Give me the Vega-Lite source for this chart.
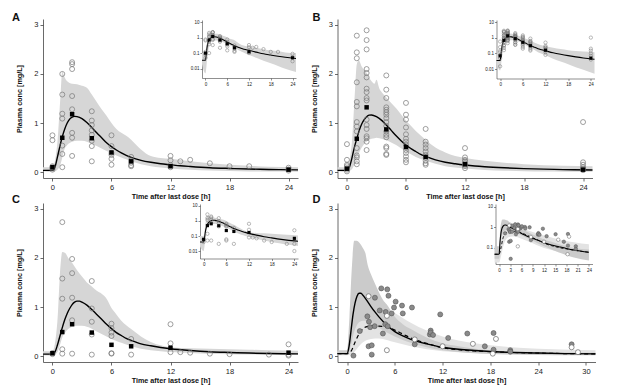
{
  "$schema": "https://vega.github.io/schema/vega-lite/v6.json",
  "padding": {"left": 12, "top": 12, "right": 5, "bottom": 2},
  "columns": 2,
  "spacing": {"row": 25, "column": 39.5},
  "bounds": "flush",
  "config": {
    "font": "Liberation Sans",
    "view": {"stroke": null},
    "title": {"fontSize": 11, "fontWeight": "bold", "anchor": "start", "frame": "group", "offset": 0, "baseline": "alphabetic", "color": "#111"},
    "axis": {"grid": false, "domainColor": "#444", "tickColor": "#444", "labelColor": "#222", "titleColor": "#111", "labelFontSize": 7.5, "titleFontSize": 7.2, "titleFontWeight": "bold", "tickSize": 3, "labelPadding": 2, "domainWidth": 0.8, "tickWidth": 0.8, "labelFlush": false, "labelOverlap": false},
    "axisX": {"titlePadding": 2},
    "axisY": {"titlePadding": 10}
  },
  "datasets": {
    "bA": [
      {"t": -0.96, "v": 0.02, "v2": 0.1}, {"t": 0, "v": 0.005, "v2": 0.1}, {"t": 0.5, "v": 0.05, "v2": 0.6}, {"t": 0.8, "v": 0.15, "v2": 1.5},
      {"t": 1, "v": 0.3, "v2": 2.05}, {"t": 1.2, "v": 0.45, "v2": 1.95}, {"t": 1.5, "v": 0.55, "v2": 1.85}, {"t": 2, "v": 0.62, "v2": 1.8},
      {"t": 2.5, "v": 0.64, "v2": 1.79}, {"t": 3, "v": 0.64, "v2": 1.76}, {"t": 3.5, "v": 0.62, "v2": 1.72}, {"t": 4, "v": 0.58, "v2": 1.58},
      {"t": 4.5, "v": 0.53, "v2": 1.43}, {"t": 5, "v": 0.48, "v2": 1.28}, {"t": 5.5, "v": 0.43, "v2": 1.15}, {"t": 6, "v": 0.39, "v2": 1.0},
      {"t": 6.5, "v": 0.34, "v2": 0.88}, {"t": 7, "v": 0.3, "v2": 0.8}, {"t": 7.5, "v": 0.26, "v2": 0.74}, {"t": 8, "v": 0.22, "v2": 0.66},
      {"t": 8.5, "v": 0.19, "v2": 0.56}, {"t": 9, "v": 0.16, "v2": 0.46}, {"t": 9.5, "v": 0.14, "v2": 0.38}, {"t": 10, "v": 0.12, "v2": 0.33},
      {"t": 11, "v": 0.095, "v2": 0.29}, {"t": 12, "v": 0.075, "v2": 0.27}, {"t": 14, "v": 0.05, "v2": 0.22}, {"t": 16, "v": 0.032, "v2": 0.18},
      {"t": 18, "v": 0.022, "v2": 0.15}, {"t": 20, "v": 0.015, "v2": 0.13}, {"t": 22, "v": 0.01, "v2": 0.11}, {"t": 24.96, "v": 0.006, "v2": 0.1}
    ],
    "lA": [
      {"t": -0.96, "v": 0.035}, {"t": 0, "v": 0.035}, {"t": 0.25, "v": 0.1}, {"t": 0.5, "v": 0.3}, {"t": 0.75, "v": 0.52}, {"t": 1, "v": 0.72},
      {"t": 1.25, "v": 0.88}, {"t": 1.5, "v": 1.0}, {"t": 1.75, "v": 1.08}, {"t": 2, "v": 1.12}, {"t": 2.25, "v": 1.135}, {"t": 2.5, "v": 1.13},
      {"t": 3, "v": 1.09}, {"t": 3.5, "v": 1.01}, {"t": 4, "v": 0.91}, {"t": 4.5, "v": 0.8}, {"t": 5, "v": 0.7}, {"t": 5.5, "v": 0.6},
      {"t": 6, "v": 0.52}, {"t": 6.5, "v": 0.45}, {"t": 7, "v": 0.39}, {"t": 7.5, "v": 0.34}, {"t": 8, "v": 0.3}, {"t": 9, "v": 0.24},
      {"t": 10, "v": 0.2}, {"t": 11, "v": 0.17}, {"t": 12, "v": 0.15}, {"t": 13, "v": 0.13}, {"t": 14, "v": 0.115}, {"t": 16, "v": 0.09},
      {"t": 18, "v": 0.075}, {"t": 20, "v": 0.063}, {"t": 22, "v": 0.054}, {"t": 24.96, "v": 0.045}
    ],
    "oA": [
      {"t": 0, "v": 0.05}, {"t": 0, "v": 0.08}, {"t": 0, "v": 0.1}, {"t": 0, "v": 0.12}, {"t": 0, "v": 0.75}, {"t": 0, "v": 0.65},
      {"t": 1, "v": 2.0}, {"t": 1, "v": 1.58}, {"t": 1, "v": 1.19}, {"t": 1, "v": 1.09}, {"t": 1, "v": 0.54}, {"t": 1, "v": 0.37}, {"t": 1, "v": 0.1},
      {"t": 2, "v": 2.24}, {"t": 2, "v": 2.2}, {"t": 2, "v": 2.1}, {"t": 2, "v": 1.55}, {"t": 2, "v": 1.28}, {"t": 2, "v": 0.8}, {"t": 2, "v": 0.7}, {"t": 2, "v": 0.33},
      {"t": 4, "v": 1.24}, {"t": 4, "v": 1.05}, {"t": 4, "v": 0.96}, {"t": 4, "v": 0.85}, {"t": 4, "v": 0.76}, {"t": 4, "v": 0.64}, {"t": 4, "v": 0.53}, {"t": 4, "v": 0.22},
      {"t": 6, "v": 0.75}, {"t": 6, "v": 0.53}, {"t": 6, "v": 0.39}, {"t": 6, "v": 0.35}, {"t": 6, "v": 0.27}, {"t": 6, "v": 0.15},
      {"t": 8, "v": 0.31}, {"t": 8, "v": 0.24}, {"t": 8, "v": 0.19}, {"t": 8, "v": 0.14}, {"t": 8, "v": 0.12},
      {"t": 12, "v": 0.33}, {"t": 12, "v": 0.24}, {"t": 12, "v": 0.14}, {"t": 12, "v": 0.1},
      {"t": 13, "v": 0.22}, {"t": 14, "v": 0.25}, {"t": 16, "v": 0.18}, {"t": 18, "v": 0.12}, {"t": 20, "v": 0.12},
      {"t": 24, "v": 0.09}, {"t": 24, "v": 0.055}, {"t": 24, "v": 0.03}
    ],
    "mA": [
      {"t": 0, "v": 0.1}, {"t": 1, "v": 0.7}, {"t": 2, "v": 1.18}, {"t": 4, "v": 0.69}, {"t": 6, "v": 0.4}, {"t": 8, "v": 0.22}, {"t": 12, "v": 0.12}, {"t": 24, "v": 0.05}
    ],
    "bB": [
      {"t": -0.96, "v": 0.02, "v2": 0.1}, {"t": 0, "v": 0.008, "v2": 0.1}, {"t": 0.5, "v": 0.06, "v2": 0.6}, {"t": 0.8, "v": 0.18, "v2": 1.6},
      {"t": 1, "v": 0.3, "v2": 2.2}, {"t": 1.2, "v": 0.38, "v2": 2.28}, {"t": 1.5, "v": 0.5, "v2": 2.15}, {"t": 2, "v": 0.63, "v2": 2.02},
      {"t": 2.5, "v": 0.68, "v2": 1.85}, {"t": 2.8, "v": 0.69, "v2": 1.8}, {"t": 3, "v": 0.7, "v2": 1.88}, {"t": 3.3, "v": 0.69, "v2": 1.7},
      {"t": 3.5, "v": 0.68, "v2": 1.64}, {"t": 4, "v": 0.65, "v2": 1.52}, {"t": 5, "v": 0.55, "v2": 1.3}, {"t": 6, "v": 0.42, "v2": 1.05},
      {"t": 7, "v": 0.31, "v2": 0.84}, {"t": 8, "v": 0.23, "v2": 0.66}, {"t": 9, "v": 0.17, "v2": 0.5}, {"t": 10, "v": 0.12, "v2": 0.4},
      {"t": 11, "v": 0.095, "v2": 0.33}, {"t": 12, "v": 0.075, "v2": 0.29}, {"t": 14, "v": 0.045, "v2": 0.23}, {"t": 16, "v": 0.03, "v2": 0.19},
      {"t": 18, "v": 0.02, "v2": 0.16}, {"t": 20, "v": 0.013, "v2": 0.14}, {"t": 22, "v": 0.009, "v2": 0.13}, {"t": 24.96, "v": 0.005, "v2": 0.12}
    ],
    "lB": [
      {"t": -0.96, "v": 0.035}, {"t": 0, "v": 0.035}, {"t": 0.25, "v": 0.1}, {"t": 0.5, "v": 0.28}, {"t": 0.75, "v": 0.5}, {"t": 1, "v": 0.68},
      {"t": 1.25, "v": 0.85}, {"t": 1.5, "v": 0.98}, {"t": 1.75, "v": 1.07}, {"t": 2, "v": 1.13}, {"t": 2.25, "v": 1.16}, {"t": 2.5, "v": 1.165},
      {"t": 3, "v": 1.13}, {"t": 3.5, "v": 1.06}, {"t": 4, "v": 0.96}, {"t": 4.5, "v": 0.85}, {"t": 5, "v": 0.74}, {"t": 5.5, "v": 0.64},
      {"t": 6, "v": 0.55}, {"t": 6.5, "v": 0.48}, {"t": 7, "v": 0.42}, {"t": 7.5, "v": 0.36}, {"t": 8, "v": 0.32}, {"t": 9, "v": 0.25},
      {"t": 10, "v": 0.2}, {"t": 11, "v": 0.17}, {"t": 12, "v": 0.145}, {"t": 13, "v": 0.125}, {"t": 14, "v": 0.11}, {"t": 16, "v": 0.088},
      {"t": 18, "v": 0.072}, {"t": 20, "v": 0.06}, {"t": 22, "v": 0.051}, {"t": 24.96, "v": 0.042}
    ],
    "oB": [
      {"t": 0, "v": 0.57}, {"t": 0, "v": 0.25}, {"t": 0, "v": 0.15}, {"t": 0, "v": 0.12}, {"t": 0, "v": 0.08}, {"t": 0, "v": 0.05}, {"t": 0, "v": 0.015},
      {"t": 1, "v": 2.78}, {"t": 1, "v": 2.44}, {"t": 1, "v": 2.32}, {"t": 1, "v": 1.83}, {"t": 1, "v": 1.43}, {"t": 1, "v": 1.34}, {"t": 1, "v": 1.02},
      {"t": 1, "v": 0.93}, {"t": 1, "v": 0.83}, {"t": 1, "v": 0.49}, {"t": 1, "v": 0.34}, {"t": 1, "v": 0.3}, {"t": 1, "v": 0.22}, {"t": 1, "v": 0.16},
      {"t": 2, "v": 2.89}, {"t": 2, "v": 2.69}, {"t": 2, "v": 2.5}, {"t": 2, "v": 2.1}, {"t": 2, "v": 2.02}, {"t": 2, "v": 1.93}, {"t": 2, "v": 1.7},
      {"t": 2, "v": 1.63}, {"t": 2, "v": 1.51}, {"t": 2, "v": 1.46}, {"t": 2, "v": 1.07}, {"t": 2, "v": 0.96}, {"t": 2, "v": 0.88}, {"t": 2, "v": 0.73},
      {"t": 2, "v": 0.69}, {"t": 2, "v": 0.62}, {"t": 2, "v": 0.45},
      {"t": 4, "v": 1.97}, {"t": 4, "v": 1.68}, {"t": 4, "v": 1.51}, {"t": 4, "v": 1.32}, {"t": 4, "v": 1.27}, {"t": 4, "v": 1.22}, {"t": 4, "v": 1.17},
      {"t": 4, "v": 1.1}, {"t": 4, "v": 1.02}, {"t": 4, "v": 0.94}, {"t": 4, "v": 0.83}, {"t": 4, "v": 0.76}, {"t": 4, "v": 0.71}, {"t": 4, "v": 0.52},
      {"t": 4, "v": 0.49}, {"t": 4, "v": 0.37}, {"t": 4, "v": 0.35},
      {"t": 6, "v": 1.41}, {"t": 6, "v": 1.17}, {"t": 6, "v": 1.07}, {"t": 6, "v": 0.91}, {"t": 6, "v": 0.77}, {"t": 6, "v": 0.68}, {"t": 6, "v": 0.62},
      {"t": 6, "v": 0.56}, {"t": 6, "v": 0.45}, {"t": 6, "v": 0.39}, {"t": 6, "v": 0.32}, {"t": 6, "v": 0.25}, {"t": 6, "v": 0.2},
      {"t": 8, "v": 0.88}, {"t": 8, "v": 0.62}, {"t": 8, "v": 0.56}, {"t": 8, "v": 0.49}, {"t": 8, "v": 0.42}, {"t": 8, "v": 0.35}, {"t": 8, "v": 0.29},
      {"t": 8, "v": 0.23}, {"t": 8, "v": 0.18}, {"t": 8, "v": 0.15},
      {"t": 12, "v": 0.49}, {"t": 12, "v": 0.3}, {"t": 12, "v": 0.25}, {"t": 12, "v": 0.22}, {"t": 12, "v": 0.18}, {"t": 12, "v": 0.15}, {"t": 12, "v": 0.12}, {"t": 12, "v": 0.08},
      {"t": 24, "v": 1.02}, {"t": 24, "v": 0.2}, {"t": 24, "v": 0.15}, {"t": 24, "v": 0.1}, {"t": 24, "v": 0.07}, {"t": 24, "v": 0.04}
    ],
    "mB": [
      {"t": 0, "v": 0.07}, {"t": 1, "v": 0.68}, {"t": 2, "v": 1.32}, {"t": 4, "v": 0.87}, {"t": 6, "v": 0.51}, {"t": 8, "v": 0.31}, {"t": 12, "v": 0.16}, {"t": 24, "v": 0.05}
    ],
    "bC": [
      {"t": -0.96, "v": 0.02, "v2": 0.1}, {"t": 0, "v": 0.01, "v2": 0.1}, {"t": 0.5, "v": 0.08, "v2": 0.7}, {"t": 0.8, "v": 0.25, "v2": 1.8},
      {"t": 1, "v": 0.38, "v2": 2.12}, {"t": 1.3, "v": 0.48, "v2": 2.1}, {"t": 1.6, "v": 0.55, "v2": 2.0}, {"t": 2, "v": 0.6, "v2": 1.9},
      {"t": 2.5, "v": 0.62, "v2": 1.75}, {"t": 3, "v": 0.62, "v2": 1.62}, {"t": 3.5, "v": 0.6, "v2": 1.5}, {"t": 4, "v": 0.56, "v2": 1.42},
      {"t": 4.5, "v": 0.5, "v2": 1.33}, {"t": 5, "v": 0.45, "v2": 1.27}, {"t": 5.5, "v": 0.4, "v2": 1.17}, {"t": 6, "v": 0.35, "v2": 0.98},
      {"t": 6.5, "v": 0.31, "v2": 0.85}, {"t": 7, "v": 0.27, "v2": 0.72}, {"t": 8, "v": 0.2, "v2": 0.55}, {"t": 9, "v": 0.15, "v2": 0.4},
      {"t": 10, "v": 0.12, "v2": 0.29}, {"t": 11, "v": 0.1, "v2": 0.22}, {"t": 12, "v": 0.085, "v2": 0.18}, {"t": 14, "v": 0.065, "v2": 0.16},
      {"t": 16, "v": 0.05, "v2": 0.15}, {"t": 18, "v": 0.04, "v2": 0.14}, {"t": 20, "v": 0.033, "v2": 0.13}, {"t": 22, "v": 0.027, "v2": 0.12},
      {"t": 24.96, "v": 0.022, "v2": 0.11}
    ],
    "lC": [
      {"t": -0.96, "v": 0.04}, {"t": 0, "v": 0.04}, {"t": 0.25, "v": 0.08}, {"t": 0.5, "v": 0.22}, {"t": 0.75, "v": 0.4}, {"t": 1, "v": 0.58},
      {"t": 1.25, "v": 0.74}, {"t": 1.5, "v": 0.87}, {"t": 1.75, "v": 0.97}, {"t": 2, "v": 1.05}, {"t": 2.25, "v": 1.1}, {"t": 2.5, "v": 1.12},
      {"t": 2.75, "v": 1.12}, {"t": 3, "v": 1.1}, {"t": 3.5, "v": 1.04}, {"t": 4, "v": 0.95}, {"t": 4.5, "v": 0.85}, {"t": 5, "v": 0.75},
      {"t": 5.5, "v": 0.65}, {"t": 6, "v": 0.56}, {"t": 6.5, "v": 0.48}, {"t": 7, "v": 0.42}, {"t": 7.5, "v": 0.36}, {"t": 8, "v": 0.32},
      {"t": 9, "v": 0.25}, {"t": 10, "v": 0.21}, {"t": 11, "v": 0.175}, {"t": 12, "v": 0.15}, {"t": 14, "v": 0.115}, {"t": 16, "v": 0.09},
      {"t": 18, "v": 0.075}, {"t": 20, "v": 0.062}, {"t": 22, "v": 0.053}, {"t": 24.96, "v": 0.045}
    ],
    "oC": [
      {"t": 0, "v": 0.06}, {"t": 0, "v": 0.04},
      {"t": 1, "v": 2.73}, {"t": 1, "v": 1.58}, {"t": 1, "v": 1.17}, {"t": 1, "v": 0.14}, {"t": 1, "v": 0.05},
      {"t": 2, "v": 1.98}, {"t": 2, "v": 1.69}, {"t": 2, "v": 1.19}, {"t": 2, "v": 0.73}, {"t": 2, "v": 0.05},
      {"t": 4, "v": 1.53}, {"t": 4, "v": 0.97}, {"t": 4, "v": 0.7}, {"t": 4, "v": 0.44}, {"t": 4, "v": 0.03},
      {"t": 6, "v": 0.66}, {"t": 6, "v": 0.57}, {"t": 6, "v": 0.48}, {"t": 6, "v": 0.41}, {"t": 6, "v": 0.05}, {"t": 6, "v": 0.06},
      {"t": 8, "v": 0.35}, {"t": 8, "v": 0.03},
      {"t": 12, "v": 0.65}, {"t": 12, "v": 0.26}, {"t": 12, "v": 0.08},
      {"t": 13, "v": 0.08}, {"t": 14, "v": 0.07}, {"t": 16, "v": 0.05}, {"t": 18, "v": 0.04}, {"t": 22, "v": 0.03},
      {"t": 24, "v": 0.24}, {"t": 24, "v": 0.03}, {"t": 24, "v": 0.01}
    ],
    "mC": [
      {"t": 0, "v": 0.06}, {"t": 1, "v": 0.49}, {"t": 2, "v": 0.65}, {"t": 4, "v": 0.48}, {"t": 6, "v": 0.23}, {"t": 8, "v": 0.2}, {"t": 12, "v": 0.17}, {"t": 24, "v": 0.07}
    ],
    "bD1": [
      {"t": -1.2, "v": 0.03, "v2": 0.12}, {"t": 0, "v": 0.03, "v2": 0.12}, {"t": 0.3, "v": 0.1, "v2": 0.8}, {"t": 0.6, "v": 0.3, "v2": 1.8},
      {"t": 0.9, "v": 0.5, "v2": 2.35}, {"t": 1.2, "v": 0.62, "v2": 2.35}, {"t": 1.6, "v": 0.7, "v2": 2.3}, {"t": 2, "v": 0.72, "v2": 2.2},
      {"t": 2.3, "v": 0.72, "v2": 2.1}, {"t": 2.6, "v": 0.7, "v2": 1.85}, {"t": 3, "v": 0.68, "v2": 1.67}, {"t": 3.5, "v": 0.63, "v2": 1.48},
      {"t": 4, "v": 0.58, "v2": 1.3}, {"t": 4.5, "v": 0.53, "v2": 1.15}, {"t": 5, "v": 0.48, "v2": 1.05}, {"t": 6, "v": 0.4, "v2": 0.8},
      {"t": 7, "v": 0.33, "v2": 0.65}, {"t": 8, "v": 0.27, "v2": 0.55}, {"t": 10, "v": 0.18, "v2": 0.38}, {"t": 12, "v": 0.12, "v2": 0.26},
      {"t": 14, "v": 0.085, "v2": 0.2}, {"t": 16, "v": 0.06, "v2": 0.15}, {"t": 18, "v": 0.045, "v2": 0.12}, {"t": 20, "v": 0.035, "v2": 0.1},
      {"t": 24, "v": 0.025, "v2": 0.085}, {"t": 28, "v": 0.02, "v2": 0.075}, {"t": 31.2, "v": 0.017, "v2": 0.07}
    ],
    "bD2": [
      {"t": -1.2, "v": 0.02, "v2": 0.1}, {"t": 0, "v": 0.02, "v2": 0.1}, {"t": 0.5, "v": 0.04, "v2": 0.3}, {"t": 1, "v": 0.1, "v2": 0.65},
      {"t": 1.5, "v": 0.2, "v2": 0.9}, {"t": 2, "v": 0.28, "v2": 1.02}, {"t": 3, "v": 0.35, "v2": 1.08}, {"t": 4, "v": 0.36, "v2": 1.05},
      {"t": 5, "v": 0.33, "v2": 0.97}, {"t": 6, "v": 0.28, "v2": 0.88}, {"t": 8, "v": 0.2, "v2": 0.68}, {"t": 10, "v": 0.14, "v2": 0.52},
      {"t": 12, "v": 0.1, "v2": 0.4}, {"t": 14, "v": 0.08, "v2": 0.32}, {"t": 16, "v": 0.065, "v2": 0.26}, {"t": 18, "v": 0.055, "v2": 0.22},
      {"t": 20, "v": 0.047, "v2": 0.19}, {"t": 24, "v": 0.035, "v2": 0.15}, {"t": 28, "v": 0.028, "v2": 0.13}, {"t": 31.2, "v": 0.025, "v2": 0.12}
    ],
    "lD1": [
      {"t": -1.2, "v": 0.05}, {"t": 0, "v": 0.05}, {"t": 0.25, "v": 0.2}, {"t": 0.5, "v": 0.52}, {"t": 0.75, "v": 0.85}, {"t": 1, "v": 1.08},
      {"t": 1.25, "v": 1.22}, {"t": 1.5, "v": 1.28}, {"t": 1.75, "v": 1.28}, {"t": 2, "v": 1.24}, {"t": 2.5, "v": 1.13}, {"t": 3, "v": 1.01},
      {"t": 3.5, "v": 0.9}, {"t": 4, "v": 0.8}, {"t": 5, "v": 0.63}, {"t": 6, "v": 0.5}, {"t": 7, "v": 0.41}, {"t": 8, "v": 0.34},
      {"t": 9, "v": 0.29}, {"t": 10, "v": 0.25}, {"t": 12, "v": 0.18}, {"t": 14, "v": 0.14}, {"t": 16, "v": 0.115}, {"t": 18, "v": 0.095},
      {"t": 20, "v": 0.08}, {"t": 24, "v": 0.062}, {"t": 28, "v": 0.05}, {"t": 31.2, "v": 0.045}
    ],
    "lD2": [
      {"t": -1.2, "v": 0.05}, {"t": 0, "v": 0.05}, {"t": 0.5, "v": 0.1}, {"t": 1, "v": 0.28}, {"t": 1.5, "v": 0.45}, {"t": 2, "v": 0.56},
      {"t": 2.5, "v": 0.6}, {"t": 3, "v": 0.62}, {"t": 3.5, "v": 0.62}, {"t": 4, "v": 0.61}, {"t": 5, "v": 0.59}, {"t": 6, "v": 0.53},
      {"t": 7, "v": 0.45}, {"t": 8, "v": 0.37}, {"t": 9, "v": 0.31}, {"t": 10, "v": 0.26}, {"t": 12, "v": 0.17}, {"t": 14, "v": 0.13},
      {"t": 16, "v": 0.105}, {"t": 18, "v": 0.09}, {"t": 20, "v": 0.078}, {"t": 24, "v": 0.062}, {"t": 28, "v": 0.05}, {"t": 31.2, "v": 0.045}
    ],
    "gD": [
      {"t": 0.8, "v": 0.01}, {"t": 1.6, "v": 0.51}, {"t": 2.55, "v": 0.81}, {"t": 2.75, "v": 0.7}, {"t": 2.9, "v": 0.59}, {"t": 2.7, "v": 0.2},
      {"t": 3.1, "v": 0.22}, {"t": 3.1, "v": 0.03}, {"t": 3.47, "v": 0.61}, {"t": 3.5, "v": 1.19}, {"t": 4.1, "v": 0.93}, {"t": 4.3, "v": 1.38},
      {"t": 4.5, "v": 0.46}, {"t": 4.8, "v": 0.65}, {"t": 4.85, "v": 0.9}, {"t": 5.05, "v": 1.36}, {"t": 5.1, "v": 0.61}, {"t": 5.2, "v": 1.23},
      {"t": 5.6, "v": 0.87}, {"t": 5.9, "v": 0.99}, {"t": 6.1, "v": 1.11}, {"t": 6.9, "v": 1.03}, {"t": 7.0, "v": 0.87}, {"t": 8.15, "v": 0.99},
      {"t": 8.5, "v": 0.24}, {"t": 10.4, "v": 0.44}, {"t": 10.5, "v": 0.52}, {"t": 10.5, "v": 0.48}, {"t": 10.8, "v": 0.43}, {"t": 11.7, "v": 0.85},
      {"t": 12.7, "v": 0.37}, {"t": 15.1, "v": 0.46}, {"t": 17.3, "v": 0.2}, {"t": 18.4, "v": 0.47}, {"t": 18.4, "v": 0.13}, {"t": 20.5, "v": 0.12},
      {"t": 20.5, "v": 0.09}, {"t": 28.2, "v": 0.24}
    ],
    "oD": [
      {"t": 2.7, "v": 1.22}, {"t": 5.0, "v": 0.82}, {"t": 5.0, "v": 0.12}, {"t": 8.5, "v": 0.34}, {"t": 12.0, "v": 0.2}, {"t": 15.8, "v": 0.25},
      {"t": 18.7, "v": 0.35}, {"t": 18.3, "v": 0.05}, {"t": 28.2, "v": 0.18}, {"t": 29.0, "v": 0.08}
    ]
  },
  "concat": [
    {
      "width": 255, "height": 159,
      "title": {"text": "A", "dx": -31, "dy": 8},
      "resolve": {"scale": {"x": "independent", "y": "independent"}},
      "layer": [
        {
          "encoding": {
            "x": {"field": "t", "type": "quantitative", "scale": {"domain": [-0.96, 24.96], "nice": false, "zero": false}, "axis": {"values": [0, 6, 12, 18, 24], "format": "d", "title": "Time after last dose [h]"}},
            "y": {"field": "v", "type": "quantitative", "scale": {"domain": [-0.12, 3.12], "nice": false, "zero": false}, "axis": {"values": [0, 1, 2, 3], "format": "d", "title": "Plasma conc [mg/L]"}}
          },
          "layer": [
            {"data": {"name": "bA"}, "mark": {"type": "area", "color": "#d6d6d6", "interpolate": "monotone", "opacity": 1}, "encoding": {"y2": {"field": "v2"}}},
            {"data": {"name": "lA"}, "mark": {"type": "line", "color": "#000", "strokeWidth": 1.4, "interpolate": "monotone"}},
            {"data": {"name": "oA"}, "mark": {"type": "point", "shape": "circle", "filled": false, "color": "#777", "size": 25, "strokeWidth": 0.7, "opacity": 1}},
            {"data": {"name": "mA"}, "mark": {"type": "square", "color": "#000", "size": 20, "opacity": 1}}
          ]
        },
        {
          "encoding": {
            "x": {"field": "t", "type": "quantitative", "scale": {"domain": [-0.96, 24.96], "range": [159, 253], "nice": false, "zero": false}, "axis": {"orient": "bottom", "offset": -100, "values": [0, 6, 12, 18, 24], "format": "d", "title": null, "labelFontSize": 4.5, "tickSize": 2, "labelPadding": 1, "domainWidth": 0.6, "tickWidth": 0.6}},
            "y": {"field": "v", "type": "quantitative", "scale": {"type": "log", "domain": [0.0025, 13.5], "range": [59, 1], "nice": false}, "axis": {"orient": "left", "offset": -159, "values": [0.01, 0.1, 1, 10], "format": "~g", "title": null, "labelFontSize": 4.5, "tickSize": 2, "labelPadding": 1, "domainWidth": 0.6, "tickWidth": 0.6}}
          },
          "layer": [
            {"data": {"name": "bA"}, "mark": {"type": "area", "color": "#d6d6d6", "interpolate": "monotone", "opacity": 1}, "encoding": {"y2": {"field": "v2"}}},
            {"data": {"name": "lA"}, "mark": {"type": "line", "color": "#000", "strokeWidth": 1.1, "interpolate": "monotone"}},
            {"data": {"name": "oA"}, "mark": {"type": "point", "shape": "circle", "filled": false, "color": "#777", "size": 11, "strokeWidth": 0.5, "opacity": 1}},
            {"data": {"name": "mA"}, "mark": {"type": "square", "color": "#000", "size": 10, "opacity": 1}}
          ]
        }
      ]
    },
    {
      "width": 255, "height": 159,
      "title": {"text": "B", "dx": -25, "dy": 8},
      "resolve": {"scale": {"x": "independent", "y": "independent"}},
      "layer": [
        {
          "encoding": {
            "x": {"field": "t", "type": "quantitative", "scale": {"domain": [-0.96, 24.96], "nice": false, "zero": false}, "axis": {"values": [0, 6, 12, 18, 24], "format": "d", "title": "Time after last dose [h]"}},
            "y": {"field": "v", "type": "quantitative", "scale": {"domain": [-0.12, 3.12], "nice": false, "zero": false}, "axis": {"values": [0, 1, 2, 3], "format": "d", "title": "Plasma conc [mg/L]"}}
          },
          "layer": [
            {"data": {"name": "bB"}, "mark": {"type": "area", "color": "#d6d6d6", "interpolate": "monotone", "opacity": 1}, "encoding": {"y2": {"field": "v2"}}},
            {"data": {"name": "lB"}, "mark": {"type": "line", "color": "#000", "strokeWidth": 1.4, "interpolate": "monotone"}},
            {"data": {"name": "oB"}, "mark": {"type": "point", "shape": "circle", "filled": false, "color": "#777", "size": 25, "strokeWidth": 0.7, "opacity": 1}},
            {"data": {"name": "mB"}, "mark": {"type": "square", "color": "#000", "size": 20, "opacity": 1}}
          ]
        },
        {
          "encoding": {
            "x": {"field": "t", "type": "quantitative", "scale": {"domain": [-0.96, 24.96], "range": [159, 257], "nice": false, "zero": false}, "axis": {"orient": "bottom", "offset": -99.5, "values": [0, 6, 12, 18, 24], "format": "d", "title": null, "labelFontSize": 4.5, "tickSize": 2, "labelPadding": 1, "domainWidth": 0.6, "tickWidth": 0.6}},
            "y": {"field": "v", "type": "quantitative", "scale": {"type": "log", "domain": [0.0025, 13.5], "range": [59.5, 1], "nice": false}, "axis": {"orient": "left", "offset": -159, "values": [0.01, 0.1, 1, 10], "format": "~g", "title": null, "labelFontSize": 4.5, "tickSize": 2, "labelPadding": 1, "domainWidth": 0.6, "tickWidth": 0.6}}
          },
          "layer": [
            {"data": {"name": "bB"}, "mark": {"type": "area", "color": "#d6d6d6", "interpolate": "monotone", "opacity": 1}, "encoding": {"y2": {"field": "v2"}}},
            {"data": {"name": "lB"}, "mark": {"type": "line", "color": "#000", "strokeWidth": 1.1, "interpolate": "monotone"}},
            {"data": {"name": "oB"}, "mark": {"type": "point", "shape": "circle", "filled": false, "color": "#777", "size": 11, "strokeWidth": 0.5, "opacity": 1}},
            {"data": {"name": "mB"}, "mark": {"type": "square", "color": "#000", "size": 10, "opacity": 1}}
          ]
        }
      ]
    },
    {
      "width": 255, "height": 159,
      "title": {"text": "C", "dx": -31, "dy": 6},
      "resolve": {"scale": {"x": "independent", "y": "independent"}},
      "layer": [
        {
          "encoding": {
            "x": {"field": "t", "type": "quantitative", "scale": {"domain": [-0.96, 24.96], "nice": false, "zero": false}, "axis": {"values": [0, 6, 12, 18, 24], "format": "d", "title": "Time after last dose [h]"}},
            "y": {"field": "v", "type": "quantitative", "scale": {"domain": [-0.12, 3.12], "nice": false, "zero": false}, "axis": {"values": [0, 1, 2, 3], "format": "d", "title": "Plasma conc [mg/L]"}}
          },
          "layer": [
            {"data": {"name": "bC"}, "mark": {"type": "area", "color": "#d6d6d6", "interpolate": "monotone", "opacity": 1}, "encoding": {"y2": {"field": "v2"}}},
            {"data": {"name": "lC"}, "mark": {"type": "line", "color": "#000", "strokeWidth": 1.4, "interpolate": "monotone"}},
            {"data": {"name": "oC"}, "mark": {"type": "point", "shape": "circle", "filled": false, "color": "#777", "size": 25, "strokeWidth": 0.7, "opacity": 1}},
            {"data": {"name": "mC"}, "mark": {"type": "square", "color": "#000", "size": 20, "opacity": 1}}
          ]
        },
        {
          "encoding": {
            "x": {"field": "t", "type": "quantitative", "scale": {"domain": [-0.96, 24.96], "range": [157, 255], "nice": false, "zero": false}, "axis": {"orient": "bottom", "offset": -103.5, "values": [0, 6, 12, 18, 24], "format": "d", "title": null, "labelFontSize": 4.5, "tickSize": 2, "labelPadding": 1, "domainWidth": 0.6, "tickWidth": 0.6}},
            "y": {"field": "v", "type": "quantitative", "scale": {"type": "log", "domain": [0.0032, 13.4], "range": [55.5, 1], "nice": false}, "axis": {"orient": "left", "offset": -157, "values": [0.01, 0.1, 1, 10], "format": "~g", "title": null, "labelFontSize": 4.5, "tickSize": 2, "labelPadding": 1, "domainWidth": 0.6, "tickWidth": 0.6}}
          },
          "layer": [
            {"data": {"name": "bC"}, "mark": {"type": "area", "color": "#d6d6d6", "interpolate": "monotone", "opacity": 1}, "encoding": {"y2": {"field": "v2"}}},
            {"data": {"name": "lC"}, "mark": {"type": "line", "color": "#000", "strokeWidth": 1.1, "interpolate": "monotone"}},
            {"data": {"name": "oC"}, "mark": {"type": "point", "shape": "circle", "filled": false, "color": "#777", "size": 11, "strokeWidth": 0.5, "opacity": 1}},
            {"data": {"name": "mC"}, "mark": {"type": "square", "color": "#000", "size": 10, "opacity": 1}}
          ]
        }
      ]
    },
    {
      "width": 258, "height": 159,
      "title": {"text": "D", "dx": -25, "dy": 6},
      "resolve": {"scale": {"x": "independent", "y": "independent"}},
      "layer": [
        {
          "encoding": {
            "x": {"field": "t", "type": "quantitative", "scale": {"domain": [-1.2, 31.2], "nice": false, "zero": false}, "axis": {"values": [0, 6, 12, 18, 24, 30], "format": "d", "title": "Time after last dose [h]"}},
            "y": {"field": "v", "type": "quantitative", "scale": {"domain": [-0.12, 3.12], "nice": false, "zero": false}, "axis": {"values": [0, 1, 2, 3], "format": "d", "title": "Plasma conc [mg/L]"}}
          },
          "layer": [
            {"data": {"name": "bD2"}, "mark": {"type": "area", "color": "#e3e3e3", "interpolate": "monotone", "opacity": 1}, "encoding": {"y2": {"field": "v2"}}},
            {"data": {"name": "bD1"}, "mark": {"type": "area", "color": "#cbcbcb", "interpolate": "monotone", "opacity": 1}, "encoding": {"y2": {"field": "v2"}}},
            {"data": {"name": "lD1"}, "mark": {"type": "line", "color": "#000", "strokeWidth": 1.4, "interpolate": "monotone"}},
            {"data": {"name": "lD2"}, "mark": {"type": "line", "color": "#000", "strokeWidth": 1.2, "strokeDash": [4, 3], "interpolate": "monotone"}},
            {"data": {"name": "gD"}, "mark": {"type": "circle", "color": "#8a8a8a", "stroke": "#555", "strokeWidth": 0.6, "size": 25, "opacity": 1}},
            {"data": {"name": "oD"}, "mark": {"type": "circle", "fill": "#fff", "stroke": "#666", "strokeWidth": 0.7, "size": 25, "opacity": 1}}
          ]
        },
        {
          "encoding": {
            "x": {"field": "t", "type": "quantitative", "scale": {"domain": [-0.96, 24.96], "range": [158, 255], "nice": false, "zero": false}, "axis": {"orient": "bottom", "offset": -98, "values": [0, 3, 6, 9, 12, 15, 18, 21, 24], "format": "d", "title": null, "labelFontSize": 4.5, "tickSize": 2, "labelPadding": 1, "domainWidth": 0.6, "tickWidth": 0.6}},
            "y": {"field": "v", "type": "quantitative", "scale": {"type": "log", "domain": [0.0169, 13.2], "range": [61, 1], "nice": false}, "axis": {"orient": "left", "offset": -158, "values": [0.1, 1, 10], "format": "~g", "title": null, "labelFontSize": 4.5, "tickSize": 2, "labelPadding": 1, "domainWidth": 0.6, "tickWidth": 0.6}}
          },
          "layer": [
            {"data": {"name": "bD2"}, "transform": [{"filter": "datum.t <= 25"}], "mark": {"type": "area", "color": "#e3e3e3", "interpolate": "monotone", "opacity": 1}, "encoding": {"y2": {"field": "v2"}}},
            {"data": {"name": "bD1"}, "transform": [{"filter": "datum.t <= 25"}], "mark": {"type": "area", "color": "#cbcbcb", "interpolate": "monotone", "opacity": 1}, "encoding": {"y2": {"field": "v2"}}},
            {"data": {"name": "lD1"}, "transform": [{"filter": "datum.t <= 25"}], "mark": {"type": "line", "color": "#000", "strokeWidth": 1.1, "interpolate": "monotone"}},
            {"data": {"name": "lD2"}, "transform": [{"filter": "datum.t <= 25"}], "mark": {"type": "line", "color": "#000", "strokeWidth": 0.9, "strokeDash": [3, 2], "interpolate": "monotone"}},
            {"data": {"name": "gD"}, "transform": [{"filter": "datum.t <= 25 && datum.v >= 0.018"}], "mark": {"type": "circle", "color": "#8a8a8a", "stroke": "#555", "strokeWidth": 0.5, "size": 12, "opacity": 1}},
            {"data": {"name": "oD"}, "transform": [{"filter": "datum.t <= 25 && datum.v >= 0.018"}], "mark": {"type": "circle", "fill": "#fff", "stroke": "#666", "strokeWidth": 0.5, "size": 12, "opacity": 1}}
          ]
        }
      ]
    }
  ]
}
